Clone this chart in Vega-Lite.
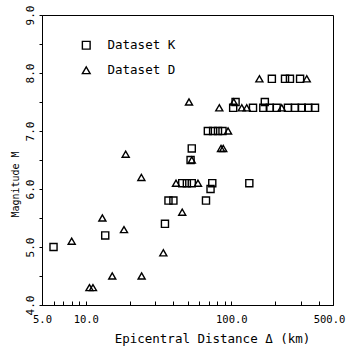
{
  "$schema": "https://vega.github.io/schema/vega-lite/v6.json",
  "autosize": "none",
  "width": 291,
  "height": 290,
  "padding": {"left": 42, "top": 15, "right": 16, "bottom": 42},
  "background": "white",
  "config": {
    "view": {"stroke": "black", "strokeWidth": 1},
    "font": "DejaVu Sans Mono"
  },
  "data": {
    "values": [
      {"d": 6.0, "m": 5.0, "s": "Dataset K"},
      {"d": 13.6, "m": 5.2, "s": "Dataset K"},
      {"d": 35, "m": 5.4, "s": "Dataset K"},
      {"d": 37, "m": 5.8, "s": "Dataset K"},
      {"d": 40, "m": 5.8, "s": "Dataset K"},
      {"d": 67, "m": 5.8, "s": "Dataset K"},
      {"d": 72, "m": 6.0, "s": "Dataset K"},
      {"d": 74, "m": 6.1, "s": "Dataset K"},
      {"d": 133, "m": 6.1, "s": "Dataset K"},
      {"d": 46, "m": 6.1, "s": "Dataset K"},
      {"d": 49.5, "m": 6.1, "s": "Dataset K"},
      {"d": 53.5, "m": 6.1, "s": "Dataset K"},
      {"d": 52.5, "m": 6.5, "s": "Dataset K"},
      {"d": 53.5, "m": 6.7, "s": "Dataset K"},
      {"d": 69, "m": 7.0, "s": "Dataset K"},
      {"d": 75, "m": 7.0, "s": "Dataset K"},
      {"d": 81, "m": 7.0, "s": "Dataset K"},
      {"d": 87, "m": 7.0, "s": "Dataset K"},
      {"d": 103, "m": 7.4, "s": "Dataset K"},
      {"d": 141, "m": 7.4, "s": "Dataset K"},
      {"d": 166, "m": 7.4, "s": "Dataset K"},
      {"d": 184, "m": 7.4, "s": "Dataset K"},
      {"d": 205, "m": 7.4, "s": "Dataset K"},
      {"d": 245, "m": 7.4, "s": "Dataset K"},
      {"d": 274, "m": 7.4, "s": "Dataset K"},
      {"d": 305, "m": 7.4, "s": "Dataset K"},
      {"d": 338, "m": 7.4, "s": "Dataset K"},
      {"d": 376, "m": 7.4, "s": "Dataset K"},
      {"d": 107, "m": 7.5, "s": "Dataset K"},
      {"d": 170, "m": 7.5, "s": "Dataset K"},
      {"d": 190, "m": 7.9, "s": "Dataset K"},
      {"d": 234, "m": 7.9, "s": "Dataset K"},
      {"d": 253, "m": 7.9, "s": "Dataset K"},
      {"d": 297, "m": 7.9, "s": "Dataset K"},
      {"d": 8.0, "m": 5.1, "s": "Dataset D"},
      {"d": 10.6, "m": 4.3, "s": "Dataset D"},
      {"d": 11.2, "m": 4.3, "s": "Dataset D"},
      {"d": 13.0, "m": 5.5, "s": "Dataset D"},
      {"d": 15.2, "m": 4.5, "s": "Dataset D"},
      {"d": 18.3, "m": 5.3, "s": "Dataset D"},
      {"d": 18.8, "m": 6.6, "s": "Dataset D"},
      {"d": 24.1, "m": 6.2, "s": "Dataset D"},
      {"d": 24.2, "m": 4.5, "s": "Dataset D"},
      {"d": 34.1, "m": 4.9, "s": "Dataset D"},
      {"d": 46, "m": 5.6, "s": "Dataset D"},
      {"d": 51.2, "m": 7.5, "s": "Dataset D"},
      {"d": 41.7, "m": 6.1, "s": "Dataset D"},
      {"d": 59, "m": 6.1, "s": "Dataset D"},
      {"d": 53.5, "m": 6.5, "s": "Dataset D"},
      {"d": 85, "m": 6.7, "s": "Dataset D"},
      {"d": 88, "m": 6.7, "s": "Dataset D"},
      {"d": 95, "m": 7.0, "s": "Dataset D"},
      {"d": 82.7, "m": 7.4, "s": "Dataset D"},
      {"d": 118, "m": 7.4, "s": "Dataset D"},
      {"d": 127.6, "m": 7.4, "s": "Dataset D"},
      {"d": 222, "m": 7.4, "s": "Dataset D"},
      {"d": 104, "m": 7.5, "s": "Dataset D"},
      {"d": 156, "m": 7.9, "s": "Dataset D"},
      {"d": 330, "m": 7.9, "s": "Dataset D"}
    ]
  },
  "mark": {"type": "point", "filled": false, "stroke": "black", "strokeWidth": 1.4, "opacity": 1},
  "encoding": {
    "x": {
      "field": "d",
      "type": "quantitative",
      "scale": {"type": "log", "domain": [5, 500], "nice": false},
      "axis": {
        "title": "Epicentral Distance Δ (km)",
        "values": [5, 6, 7, 8, 9, 10, 20, 30, 40, 50, 60, 70, 80, 90, 100, 200, 300, 400, 500],
        "labelExpr": "(datum.value == 5 || datum.value == 10 || datum.value == 100 || datum.value == 500) ? format(datum.value, '.1f') : ''",
        "grid": false,
        "domainColor": "black",
        "tickColor": "black",
        "tickSize": -4,
        "labelPadding": 13,
        "labelFontSize": 10.5,
        "labelOffset": {"condition": {"test": "datum.value == 500", "value": -4}, "value": 0},
        "labelColor": "#000000",
        "labelFont": "DejaVu Sans Mono",
        "labelFlush": false,
        "labelOverlap": false,
        "titleFont": "DejaVu Sans Mono",
        "titleFontSize": 12.5,
        "titleFontWeight": "normal",
        "titleColor": "#000000",
        "titleX": 170,
        "titleY": 27,
        "titleAnchor": "middle",
        "titleAlign": "center",
        "titleBaseline": "top"
      }
    },
    "y": {
      "field": "m",
      "type": "quantitative",
      "scale": {"domain": [4, 9], "nice": false, "zero": false},
      "axis": {
        "title": "Magnitude M",
        "values": [4, 4.5, 5, 5.5, 6, 6.5, 7, 7.5, 8, 8.5, 9],
        "labelExpr": "datum.value % 1 == 0 ? format(datum.value, '.1f') : ''",
        "grid": false,
        "domainColor": "black",
        "tickColor": "black",
        "tickSize": 3,
        "labelAngle": -90,
        "labelAlign": "center",
        "labelBaseline": "bottom",
        "labelPadding": 4,
        "labelFontSize": 11,
        "labelColor": "#000000",
        "labelFont": "DejaVu Sans Mono",
        "labelFlush": false,
        "labelOverlap": false,
        "titleFont": "DejaVu Sans Mono",
        "titleFontSize": 10,
        "titleFontWeight": "normal",
        "titleColor": "#000000",
        "titlePadding": 4,
        "titleY": 169,
        "titleAnchor": "middle"
      }
    },
    "shape": {
      "field": "s",
      "type": "nominal",
      "scale": {"domain": ["Dataset K", "Dataset D"], "range": ["square", "triangle-up"]},
      "legend": {
        "title": null,
        "orient": "none",
        "legendX": 38,
        "legendY": 24,
        "labelFont": "DejaVu Sans Mono",
        "labelFontSize": 12.5,
        "labelColor": "#000000",
        "labelOffset": 15,
        "rowPadding": 12,
        "symbolSize": 60,
        "symbolStrokeColor": "black",
        "symbolStrokeWidth": 1.4,
        "symbolFillColor": "transparent",
        "padding": 0
      }
    },
    "size": {"value": 50}
  }
}
